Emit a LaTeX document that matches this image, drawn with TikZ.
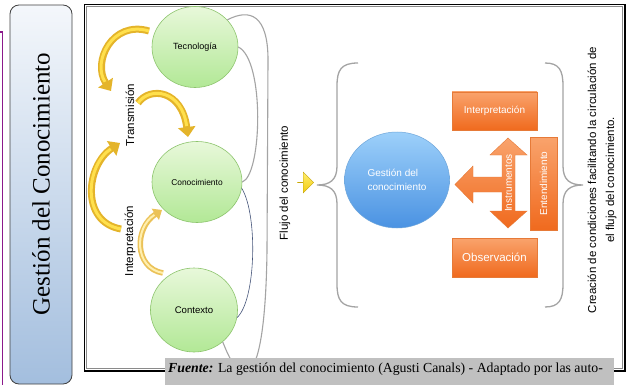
\documentclass[tikz,border=0pt]{standalone}
\usepackage{fontspec}
\setmainfont{Liberation Serif}
\setsansfont{Liberation Sans}
\usetikzlibrary{shapes.geometric,shapes.arrows,arrows.meta}

\definecolor{titletop}{HTML}{F4F7FB}
\definecolor{titlebot}{HTML}{A3BEDE}
\definecolor{purpleline}{HTML}{8B1A8B}
\definecolor{framegray}{HTML}{8A8A8A}
\definecolor{capgray}{HTML}{C0C0C0}
\definecolor{grntop}{HTML}{E8F8DA}
\definecolor{grnbot}{HTML}{B2E896}
\definecolor{grnedge}{HTML}{8CC46C}
\definecolor{bluetop}{HTML}{9DD0FA}
\definecolor{bluebot}{HTML}{4A92E2}
\definecolor{blueedge}{HTML}{6FA6DA}
\definecolor{orgtop}{HTML}{F9A36C}
\definecolor{orgbot}{HTML}{F06A1E}
\definecolor{orgedge}{HTML}{E67A38}
\definecolor{linkgray}{HTML}{A4A4A4}
\definecolor{linkslate}{HTML}{46557A}
\definecolor{gold}{HTML}{E4B42A}
\definecolor{goldlight}{HTML}{FFE04C}
\definecolor{palegold}{HTML}{EBC258}
\definecolor{palelight}{HTML}{FFEFAE}
\definecolor{flowtop}{HTML}{FFEE70}
\definecolor{flowbot}{HTML}{F2CC10}

\begin{document}
\begin{tikzpicture}[x=1pt,y=-1pt,
  greencirc/.style={ellipse, draw=grnedge, line width=0.6pt,
    top color=grntop, bottom color=grnbot, inner sep=0pt},
  orgbox/.style={rectangle, draw=orgedge, line width=0.4pt,
    top color=orgtop, bottom color=orgbot, text=white, inner sep=0pt,
    font=\sffamily\fontsize{10}{12}\selectfont},
  sidelabel/.style={rotate=90, inner sep=0pt,
    font=\sffamily\fontsize{11.5}{14}\selectfont},
  graylink/.style={draw=linkgray, line width=1.1pt},
  bracestroke/.style={draw=linkgray, line width=1.3pt},
  goldarrow/.style={draw=gold, line width=7pt,
    -{Triangle[width=17pt,length=10pt]}},
  goldshine/.style={draw=goldlight, line width=3pt, shorten >=11pt},
  palearrow/.style={draw=palegold, line width=5.5pt,
    -{Triangle[width=13pt,length=8pt]}},
  paleshine/.style={draw=palelight, line width=2pt, shorten >=9pt}
]
\useasboundingbox (0,0) rectangle (631,385);

% side title panel
\draw[purpleline, line width=1.5pt] (0,32) -- (2.5,32) -- (2.5,385);
\draw[black!75, line width=0.8pt, rounded corners=9pt,
  top color=titletop, bottom color=titlebot] (10,5) rectangle (72,384);
\node[rotate=90, font=\fontsize{25}{30}\selectfont] (title) at (41,184)
  {Gestión del Conocimiento};

% main frame with shadow
\fill[black] (84,4) rectangle (626,372);
\fill[white] (85,5) rectangle (623.5,369.5);
\draw[framegray, line width=1.4pt] (86.5,6.5) rectangle (622.5,368.5);

% the three knowledge circles
\node[greencirc, minimum width=86pt, minimum height=81pt,
  font=\sffamily\fontsize{9}{11}\selectfont] (tec) at (195,47) {Tecnología};
\node[greencirc, minimum width=90pt, minimum height=81pt,
  font=\sffamily\fontsize{8.4}{10}\selectfont] (con) at (197,182) {Conocimiento};
\node[greencirc, minimum width=87pt, minimum height=84pt,
  font=\sffamily\fontsize{9.6}{11}\selectfont] (ctx) at (194,310) {Contexto};

% links between the circles
\draw[graylink] (tec.40) .. controls (250,8) and (268,15) .. (268,60)
  -- (267,250) .. controls (266,330) and (258,372) .. (245,372)
  .. controls (235,372) and (228,355) .. (ctx.-48);
\draw[graylink] (tec.east) .. controls (265,60) and (262,175) .. (con.east);
\draw[linkslate, line width=0.6pt] (con.-8) .. controls (258,215) and (256,300) .. (ctx.-10);

% curved yellow arrows
\coordinate (a1s) at (149,31);  \coordinate (a1e) at (111,91);
\coordinate (a2s) at (138,103); \coordinate (a2e) at (188,137);
\coordinate (a3s) at (121,229); \coordinate (a3e) at (120,143);
\coordinate (a4s) at (163,273); \coordinate (a4e) at (162,210);
\draw[goldarrow] (a1s) .. controls (112,20) and (92,62) .. (a1e);
\draw[goldshine] (a1s) .. controls (112,20) and (92,62) .. (a1e);
\draw[goldarrow] (a2s) .. controls (150,86) and (182,90) .. (a2e);
\draw[goldshine] (a2s) .. controls (150,86) and (182,90) .. (a2e);
\draw[goldarrow] (a3s) .. controls (80,222) and (86,165) .. (a3e);
\draw[goldshine] (a3s) .. controls (80,222) and (86,165) .. (a3e);
\draw[palearrow] (a4s) .. controls (134,268) and (134,228) .. (a4e);
\draw[paleshine] (a4s) .. controls (134,268) and (134,228) .. (a4e);

\node[sidelabel] (trans) at (130,115) {Transmisión};
\node[sidelabel] (interpl) at (130,241) {Interpretación};
\node[sidelabel] (flujo) at (285,183) {Flujo del conocimiento};

% flow arrow
\node[single arrow, single arrow head extend=4.5pt, minimum width=21pt,
  minimum height=16pt, inner sep=0pt, draw=flowbot!80!black, line width=0.3pt,
  top color=flowtop, bottom color=flowbot] (flow) at (305.5,182.5) {};

% braces
\draw[bracestroke] (358,63) .. controls (341,63) and (337,70) .. (337,86)
  -- (337,166) .. controls (337,180) and (330,185) .. (317,185)
  .. controls (330,185) and (337,190) .. (337,204)
  -- (337,284) .. controls (337,300) and (341,307) .. (358,307);
\draw[bracestroke] (545,63) .. controls (559,63) and (563,70) .. (563,86)
  -- (563,166) .. controls (563,180) and (570,185) .. (583,185)
  .. controls (570,185) and (563,190) .. (563,204)
  -- (563,284) .. controls (563,300) and (559,307) .. (545,307);

% knowledge management core
\node[ellipse, draw=blueedge, line width=0.5pt, top color=bluetop,
  bottom color=bluebot, minimum width=105pt, minimum height=96pt,
  text=white, align=left, inner sep=0pt,
  font=\sffamily\fontsize{10}{14}\selectfont] (gc) at (397,180)
  {Gestión del\\conocimiento};

\node[orgbox, minimum width=85pt, minimum height=38pt] (interp) at (494.5,111)
  {Interpretación};
\node[orgbox, minimum width=85pt, minimum height=39pt,
  font=\sffamily\fontsize{11.5}{13}\selectfont] (obs) at (494.5,257.5)
  {Observación};
\node[orgbox, minimum width=27pt, minimum height=93pt] (entbox) at (543.5,183.5) {};
\node[rotate=90, text=white, font=\sffamily\fontsize{10}{12}\selectfont]
  (ent) at (entbox.center) {Entendimiento};

% three-way instrument arrow
\draw[orgedge, line width=0.4pt, top color=orgtop, bottom color=orgbot]
  (508,138) -- (527,155) -- (515,155) -- (515,211) -- (527,211) -- (508,228)
  -- (490,211) -- (502,211) -- (502,192) -- (473,192) -- (473,203)
  -- (455,184.5) -- (473,166) -- (473,177) -- (502,177) -- (502,155)
  -- (490,155) -- cycle;
\node[rotate=90, text=white, font=\sffamily\fontsize{10}{12}\selectfont]
  (instr) at (508.5,183) {Instrumentos};

\node[sidelabel, align=center, font=\sffamily\fontsize{11.5}{18}\selectfont]
  (crea) at (602,180)
  {Creación de condiciones facilitando la circulación de\\el flujo del conocimiento.};

% source caption
\fill[capgray] (165,358) rectangle (614,385);
\node[anchor=base west, inner sep=0pt, font=\fontsize{13.8}{16}\selectfont]
  (fuente) at (168,372)
  {\textbf{\textit{Fuente:}} La gestión del conocimiento (Agusti Canals) - Adaptado por las auto-};
\end{tikzpicture}
\end{document}
